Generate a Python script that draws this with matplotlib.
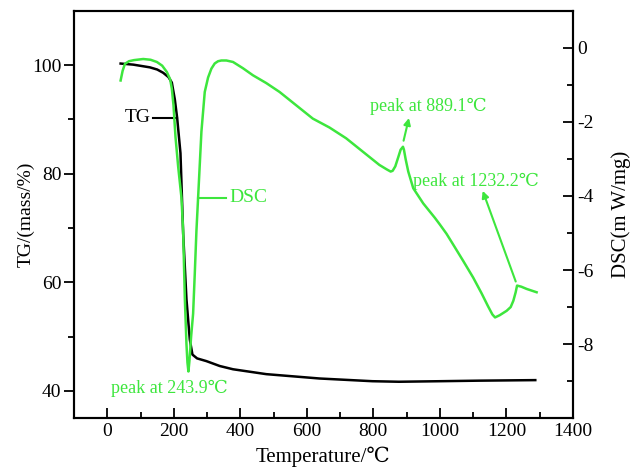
import numpy as np
import matplotlib.pyplot as plt
from matplotlib.ticker import MultipleLocator, FixedLocator

plt.rcParams['font.family'] = ['Liberation Serif', 'DejaVu Serif']
plt.rcParams['font.size'] = 14
plt.rcParams['axes.unicode_minus'] = False

green = '#3de63d'

# TG curve (mass %)
tg_T = [40, 78, 128, 150, 168, 184, 194, 203, 210, 220, 228, 238, 248, 256, 270, 298, 338, 378, 478, 638, 797, 877, 1000, 1117, 1287]
tg_val = [100.3, 100.1, 99.6, 99.2, 98.6, 97.8, 96.8, 93.7, 90.3, 83.8, 69.1, 56.9, 49.5, 46.7, 46.0, 45.5, 44.6, 44.0, 43.1, 42.3, 41.8, 41.7, 41.8, 41.9, 42.0]

# DSC curve (mW/mg)
dsc_T = [40, 46, 53, 65, 80, 108, 130, 149, 165, 179, 189, 194, 199, 205, 213, 223, 228, 233, 238, 241, 243.9,
         247, 252, 258, 263, 268, 273, 283, 293, 303, 313, 323, 333, 343, 358, 378, 408, 438, 478, 518, 568, 618,
         668, 718, 768, 818, 840, 852, 858, 866, 875, 882, 889.1, 892, 897, 905, 920, 950, 985, 1000, 1020, 1040,
         1070, 1100, 1125, 1145, 1158, 1166, 1180, 1201, 1213, 1221, 1228, 1232.2, 1245, 1261, 1291]
dsc_val = [-0.88, -0.62, -0.43, -0.36, -0.33, -0.30, -0.32, -0.38, -0.48, -0.65, -0.85, -1.10, -1.55, -2.40, -3.2, -4.05,
           -4.94, -6.73, -8.0, -8.5, -8.74,
           -8.45, -7.8, -7.18, -6.1, -4.94, -4.05, -2.26, -1.19, -0.80, -0.56, -0.42, -0.36, -0.34, -0.34, -0.38,
           -0.55, -0.74, -0.95, -1.19, -1.55, -1.91, -2.15, -2.44, -2.80, -3.16, -3.28, -3.34, -3.32, -3.2, -2.95,
           -2.75, -2.67, -2.75, -3.0, -3.34, -3.79, -4.2, -4.59, -4.77, -5.02, -5.31, -5.75, -6.20, -6.62, -6.98,
           -7.20, -7.28, -7.22, -7.10, -7.0, -6.83, -6.6, -6.42, -6.45, -6.51, -6.60]

fig = plt.figure(figsize=(6.33, 4.73), dpi=100)
ax = fig.add_axes([0.117, 0.116, 0.788, 0.861])
ax2 = ax.twinx()

ax.plot(tg_T, tg_val, color='black', lw=1.8)
ax2.plot(dsc_T, dsc_val, color=green, lw=1.8)

ax.set_xlim(-100, 1400)
ax.set_ylim(35, 110)
ax2.set_ylim(-10, 1)

ax.xaxis.set_major_locator(MultipleLocator(200))
ax.xaxis.set_minor_locator(MultipleLocator(100))
ax.yaxis.set_major_locator(FixedLocator([40, 60, 80, 100]))
ax.yaxis.set_minor_locator(FixedLocator([50, 70, 90]))
ax2.yaxis.set_major_locator(FixedLocator([0, -2, -4, -6, -8]))
ax2.yaxis.set_minor_locator(FixedLocator([-1, -3, -5, -7, -9]))

ax.tick_params(axis='x', which='both', direction='in', top=False)
ax.tick_params(axis='y', which='both', direction='out', pad=2)
ax.tick_params(which='major', length=7, width=1.3, labelsize=14)
ax.tick_params(which='minor', length=4, width=1.3)
ax2.tick_params(axis='y', which='both', direction='in', width=1.3, labelsize=14)
ax2.tick_params(which='major', length=7)
ax2.tick_params(which='minor', length=4)

for a in (ax, ax2):
    for s in a.spines.values():
        s.set_linewidth(1.5)

ax.set_xlabel('Temperature/℃', fontsize=15, labelpad=5)
ax.set_ylabel('TG/(mass/%)', fontsize=14, labelpad=-2)
ax2.set_ylabel('DSC(m W/mg)', fontsize=15, rotation=90, labelpad=12)

# curve labels
ax.plot([137, 210], [90.3, 90.3], color='black', lw=1.5)
ax.text(130, 90.3, 'TG', ha='right', va='center', fontsize=14)
ax2.plot([273, 358], [-4.05, -4.05], color=green, lw=1.5)
ax2.text(366, -4.05, 'DSC', ha='left', va='center', fontsize=14, color=green)

# peak annotations
ax2.text(10, -9.2, 'peak at 243.9℃', ha='left', va='center', fontsize=13, color=green)
ax2.text(789, -1.58, 'peak at 889.1℃', ha='left', va='center', fontsize=13, color=green)
ax2.annotate('', xy=(909, -1.82), xytext=(889, -2.58),
             arrowprops=dict(arrowstyle='-|>', color=green, lw=1.5, mutation_scale=10))
ax2.text(919, -3.60, 'peak at 1232.2℃', ha='left', va='center', fontsize=13, color=green)
ax2.annotate('', xy=(1126, -3.79), xytext=(1231, -6.38),
             arrowprops=dict(arrowstyle='-|>', color=green, lw=1.5, mutation_scale=10))

fig.savefig('out.png', dpi=100)
